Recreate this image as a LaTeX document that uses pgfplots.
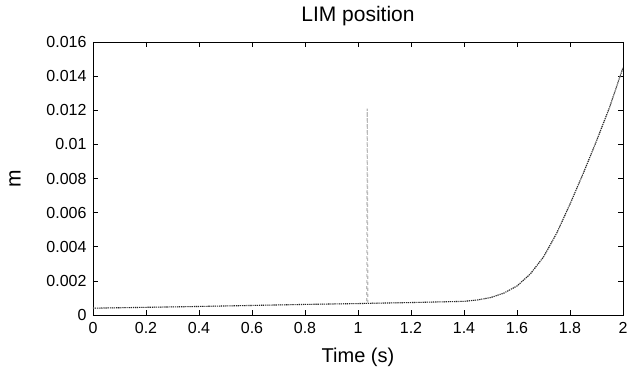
\documentclass[border=0pt]{standalone}
\usepackage{pgfplots}
\pgfplotsset{compat=1.18}
\usepackage{fontspec}
\setmainfont{Liberation Sans}
\begin{document}
\begin{tikzpicture}[x=1pt,y=1pt]
\path[use as bounding box] (-93,-62) rectangle (537,315);
\begin{axis}[
  at={(0,0)}, anchor=south west,
  scale only axis, width=530pt, height=273pt,
  xmin=0, xmax=2, ymin=0, ymax=0.016,
  xtick={0,0.2,...,2.01},
  xticklabels={0,0.2,0.4,0.6,0.8,1,1.2,1.4,1.6,1.8,2},
  ytick={0,0.002,0.004,0.006,0.008,0.01,0.012,0.014,0.016},
  yticklabels={0,0.002,0.004,0.006,0.008,0.01,0.012,0.014,0.016},
  scaled y ticks=false,
  tick align=inside, major tick length=5pt,
  tick style={black, line width=0.6pt},
  axis line style={black, line width=0.8pt},
  /pgf/number format/assume math mode=true,
  tick label style={font=\fontsize{16}{19}\selectfont},
  xticklabel style={yshift=-4pt},
  yticklabel style={xshift=-3pt},
  title={LIM position},
  title style={font=\fontsize{21}{24}\selectfont, at={(axis description cs:0.5,1)}, anchor=center, yshift=20pt},
  xlabel={Time (s)}, ylabel={m},
  xlabel style={font=\fontsize{20}{24}\selectfont, at={(axis description cs:0.5,0)}, anchor=center, yshift=-42pt},
  ylabel style={font=\fontsize{21}{24}\selectfont, at={(axis description cs:0,0.5)}, anchor=center, yshift=78pt},
]
\addplot[gray!55, dashed, line width=1.1pt] coordinates {
(0,0.0004) (0.2,0.00045) (0.4,0.0005) (0.6,0.00056) (0.8,0.00062) (1.0,0.00067)
(1.033,0.00068) (1.035,0.0121) (1.037,0.00069)
(1.2,0.00073) (1.4,0.0008) (1.45,0.00088) (1.5,0.00102) (1.55,0.00128) (1.6,0.0017)
(1.65,0.0024) (1.7,0.0034) (1.75,0.0048) (1.8,0.0065) (1.85,0.0083) (1.9,0.0102)
(1.95,0.0122) (2.0,0.0145)};
\addplot[black!85, densely dotted, line width=1.1pt] coordinates {
(0,0.0004) (0.2,0.00045) (0.4,0.0005) (0.6,0.00056) (0.8,0.00062) (1.0,0.00067)
(1.2,0.00073) (1.4,0.0008) (1.45,0.00088) (1.5,0.00102) (1.55,0.00128) (1.6,0.0017)
(1.65,0.0024) (1.7,0.0034) (1.75,0.0048) (1.8,0.0065) (1.85,0.0083) (1.9,0.0102)
(1.95,0.0122) (2.0,0.0145)};
\end{axis}
\end{tikzpicture}
\end{document}
